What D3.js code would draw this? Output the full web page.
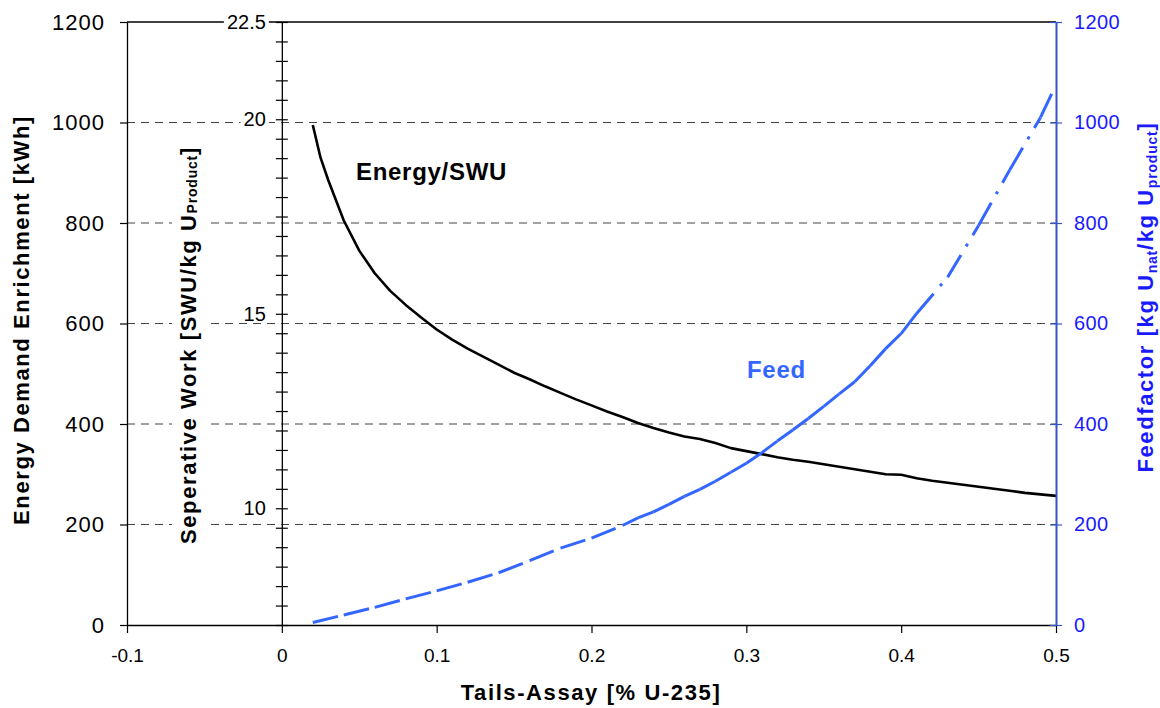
<!DOCTYPE html>
<html>
<head>
<meta charset="utf-8">
<script src="https://cdn.jsdelivr.net/npm/d3@7"></script>
<style>
  html, body { margin: 0; padding: 0; background: #fff; }
  svg { display: block; font-family: "Liberation Sans", Arial, sans-serif; }
</style>
</head>
<body>
<svg id="chart" width="1160" height="708"></svg>
<script>
// Energy demand per SWU versus tails assay [kWh]
const energyTails = [0.02, 0.025, 0.03, 0.04, 0.05, 0.06, 0.07, 0.08, 0.09, 0.10,
  0.11, 0.12, 0.13, 0.14, 0.15, 0.16, 0.17, 0.18, 0.19, 0.20,
  0.21, 0.22, 0.23, 0.24, 0.25, 0.26, 0.27, 0.28, 0.29, 0.30,
  0.31, 0.32, 0.33, 0.34, 0.35, 0.36, 0.37, 0.38, 0.39, 0.40,
  0.41, 0.42, 0.43, 0.44, 0.45, 0.46, 0.47, 0.48, 0.49, 0.50];
const energyDemand = [995, 930, 885, 805, 745, 700, 665, 637, 612, 588,
  568, 550, 534, 518, 502, 489, 475, 462, 449, 437,
  425, 414, 402, 392, 383, 375, 370, 362, 352, 346,
  340, 334, 329, 325, 320, 315, 310, 305, 300, 299,
  292, 287, 283, 279, 275, 271, 267, 263, 260, 257];

// Feed factor versus tails assay [kg U_nat / kg U_product]
const feedTails = [0.02, 0.04, 0.06, 0.08, 0.10, 0.12, 0.14, 0.16, 0.18, 0.20, 0.22,
  0.23, 0.24, 0.25, 0.26, 0.27, 0.28, 0.29, 0.30, 0.31, 0.32,
  0.33, 0.34, 0.35, 0.36, 0.37, 0.38, 0.39, 0.40, 0.41,
  0.43, 0.45, 0.47, 0.49, 0.50];
const feedFactor = [5, 20, 35, 52, 68, 85, 104, 128, 153, 173, 198,
  213, 225, 240, 256, 270, 286, 304, 322, 343, 366,
  388, 411, 435, 460, 484, 516, 550, 580, 620,
  692, 795, 905, 1010, 1075];

// Axis ticks and labels
const xTicks = [-0.1, 0, 0.1, 0.2, 0.3, 0.4, 0.5];
const xTickLabels = ["-0.1", "0", "0.1", "0.2", "0.3", "0.4", "0.5"];
const energyTicks = [0, 200, 400, 600, 800, 1000, 1200];
const feedTicks = [0, 200, 400, 600, 800, 1000, 1200];
const swuDomain = [7, 22.5];
const swuTicks = d3.range(7, 22.51, 0.5);
const swuTickLabels = { 10: "10", 15: "15", 20: "20", 22.5: "22.5" };

const svg = d3.select("#chart");
const L = 127, R = 1056, T = 22, B = 625;

const x = d3.scaleLinear().domain([-0.1, 0.5]).range([L, R]);
const yEnergy = d3.scaleLinear().domain([0, 1200]).range([B, T]);
const yFeed = d3.scaleLinear().domain([0, 1200]).range([B, T]);
const ySwu = d3.scaleLinear().domain(swuDomain).range([B, T]);

const BLUE_LINE = "#3366ff";
const BLUE_TEXT = "#1a1aff";
const BLUE_AXIS = "#3355c8";

// Horizontal dashed gridlines
svg.append("g")
  .selectAll("line")
  .data(energyTicks.filter(v => v > 0 && v < 1200))
  .join("line")
  .attr("x1", L).attr("x2", R)
  .attr("y1", d => yEnergy(d)).attr("y2", d => yEnergy(d))
  .attr("stroke", "#444")
  .attr("stroke-width", 1)
  .attr("stroke-dasharray", "8,6");

// Top frame line
svg.append("line")
  .attr("x1", L).attr("x2", R).attr("y1", T).attr("y2", T)
  .attr("stroke", "#000").attr("stroke-width", 1.3);

// Vertical axis titles (rotated), optional smaller sub-parts
function verticalTitle(cx, cy, parts, color, withBox) {
  const g = svg.append("g");
  const t = g.append("text")
    .attr("transform", `translate(${cx},${cy}) rotate(-90)`)
    .attr("text-anchor", "middle")
    .attr("font-weight", "bold")
    .attr("font-size", 22)
    .attr("letter-spacing", "1.6px")
    .attr("fill", color);
  parts.forEach(p => {
    const s = t.append("tspan").text(p.text);
    if (p.small) s.attr("font-size", 14).attr("letter-spacing", "0.8px");
    if (p.dy) s.attr("dy", p.dy);
  });
  if (withBox) {
    const b = g.node().getBBox();
    g.insert("rect", "text")
      .attr("x", b.x - 4).attr("y", b.y - 4)
      .attr("width", b.width + 8).attr("height", b.height + 8)
      .attr("fill", "#fff");
  }
  return g;
}

verticalTitle(29, 320, [{ text: "Energy Demand Enrichment [kWh]" }], "#000", false);
verticalTitle(196, 345, [
  { text: "Seperative Work [SWU/kg U" },
  { text: "Product", small: true, dy: 1 },
  { text: "]", dy: -1 }
], "#000", true);
verticalTitle(1153, 297, [
  { text: "Feedfactor [kg U" },
  { text: "nat", small: true, dy: 4 },
  { text: "/kg U", dy: -4 },
  { text: "product", small: true, dy: 4 },
  { text: "]", dy: -4 }
], BLUE_TEXT, false);

// Energy/SWU curve
const energyLine = d3.line()
  .x((d, i) => x(energyTails[i]))
  .y(d => yEnergy(d));
svg.append("path")
  .attr("d", energyLine(energyDemand))
  .attr("fill", "none")
  .attr("stroke", "#000")
  .attr("stroke-width", 2.6)
  .attr("stroke-linejoin", "round");

// Feed curve: dash pattern restarts on every segment
const feedPts = feedTails.map((t, i) => [x(t), yFeed(feedFactor[i])]);
svg.append("g")
  .selectAll("path")
  .data(d3.pairs(feedPts))
  .join("path")
  .attr("d", d => `M${d[0][0]},${d[0][1]}L${d[1][0]},${d[1][1]}`)
  .attr("fill", "none")
  .attr("stroke", BLUE_LINE)
  .attr("stroke-width", 3)
  .attr("stroke-dasharray", "26,10,3,10");

// Left axis (energy)
const leftAxis = svg.append("g")
  .attr("transform", `translate(${L},0)`)
  .call(d3.axisLeft(yEnergy).tickValues(energyTicks).tickSize(7).tickSizeOuter(0).tickPadding(15).tickFormat(d3.format("d")));
leftAxis.select(".domain").attr("stroke", "#000").attr("stroke-width", 1.3);
leftAxis.selectAll(".tick line").attr("stroke", "#000").attr("stroke-width", 1.2);
leftAxis.selectAll("text")
  .attr("font-family", "Liberation Sans, Arial, sans-serif")
  .attr("font-size", 22).attr("letter-spacing", "1px").attr("fill", "#000");

// Bottom axis (tails assay)
const bottomAxis = svg.append("g")
  .attr("transform", `translate(0,${B})`)
  .call(d3.axisBottom(x).tickValues(xTicks).tickSize(8).tickSizeOuter(0).tickPadding(16)
    .tickFormat((d, i) => xTickLabels[i]));
bottomAxis.select(".domain").attr("stroke", "#000").attr("stroke-width", 1.5);
bottomAxis.selectAll(".tick line").attr("stroke", "#000").attr("stroke-width", 1.2);
bottomAxis.selectAll("text")
  .attr("font-family", "Liberation Sans, Arial, sans-serif")
  .attr("font-size", 19).attr("fill", "#000");

// Middle axis (separative work)
const swuAxis = svg.append("g")
  .attr("transform", `translate(${x(0)},0)`)
  .call(d3.axisLeft(ySwu).tickValues(swuTicks).tickSize(6).tickSizeOuter(0).tickPadding(10)
    .tickFormat(d => swuTickLabels[d] || ""));
swuAxis.select(".domain").attr("stroke", "#000").attr("stroke-width", 1.3);
swuAxis.selectAll(".tick line").attr("x1", -6).attr("x2", 6).attr("stroke", "#000").attr("stroke-width", 1.2);
swuAxis.selectAll("text")
  .attr("font-family", "Liberation Sans, Arial, sans-serif")
  .attr("font-size", 20).attr("fill", "#000");
swuAxis.selectAll(".tick").each(function () {
  const txt = d3.select(this).select("text");
  if (!txt.text()) return;
  const b = txt.node().getBBox();
  d3.select(this).insert("rect", "text")
    .attr("x", b.x - 3).attr("y", b.y + 3)
    .attr("width", b.width + 6).attr("height", b.height - 6)
    .attr("fill", "#fff");
});

// Right axis (feed factor)
const rightAxis = svg.append("g")
  .attr("transform", `translate(${R},0)`)
  .call(d3.axisRight(yFeed).tickValues(feedTicks).tickSize(6).tickSizeOuter(0).tickPadding(12).tickFormat(d3.format("d")));
rightAxis.select(".domain").attr("stroke", BLUE_AXIS).attr("stroke-width", 2);
rightAxis.selectAll(".tick line").attr("x1", -6).attr("x2", 6).attr("stroke", BLUE_AXIS).attr("stroke-width", 1.2);
rightAxis.selectAll("text")
  .attr("font-family", "Liberation Sans, Arial, sans-serif")
  .attr("font-size", 20).attr("letter-spacing", "0.4px").attr("fill", BLUE_TEXT);

// Series labels
svg.append("text")
  .attr("x", 356).attr("y", 180)
  .attr("font-weight", "bold").attr("font-size", 24).attr("letter-spacing", "0.7px")
  .attr("fill", "#000")
  .text("Energy/SWU");
svg.append("text")
  .attr("x", 747).attr("y", 378)
  .attr("font-weight", "bold").attr("font-size", 24).attr("letter-spacing", "0.7px")
  .attr("fill", BLUE_LINE)
  .text("Feed");

// X axis title
svg.append("text")
  .attr("x", 591).attr("y", 700)
  .attr("text-anchor", "middle")
  .attr("font-weight", "bold").attr("font-size", 22).attr("letter-spacing", "1.6px")
  .attr("fill", "#000")
  .text("Tails-Assay [% U-235]");
</script>
</body>
</html>
